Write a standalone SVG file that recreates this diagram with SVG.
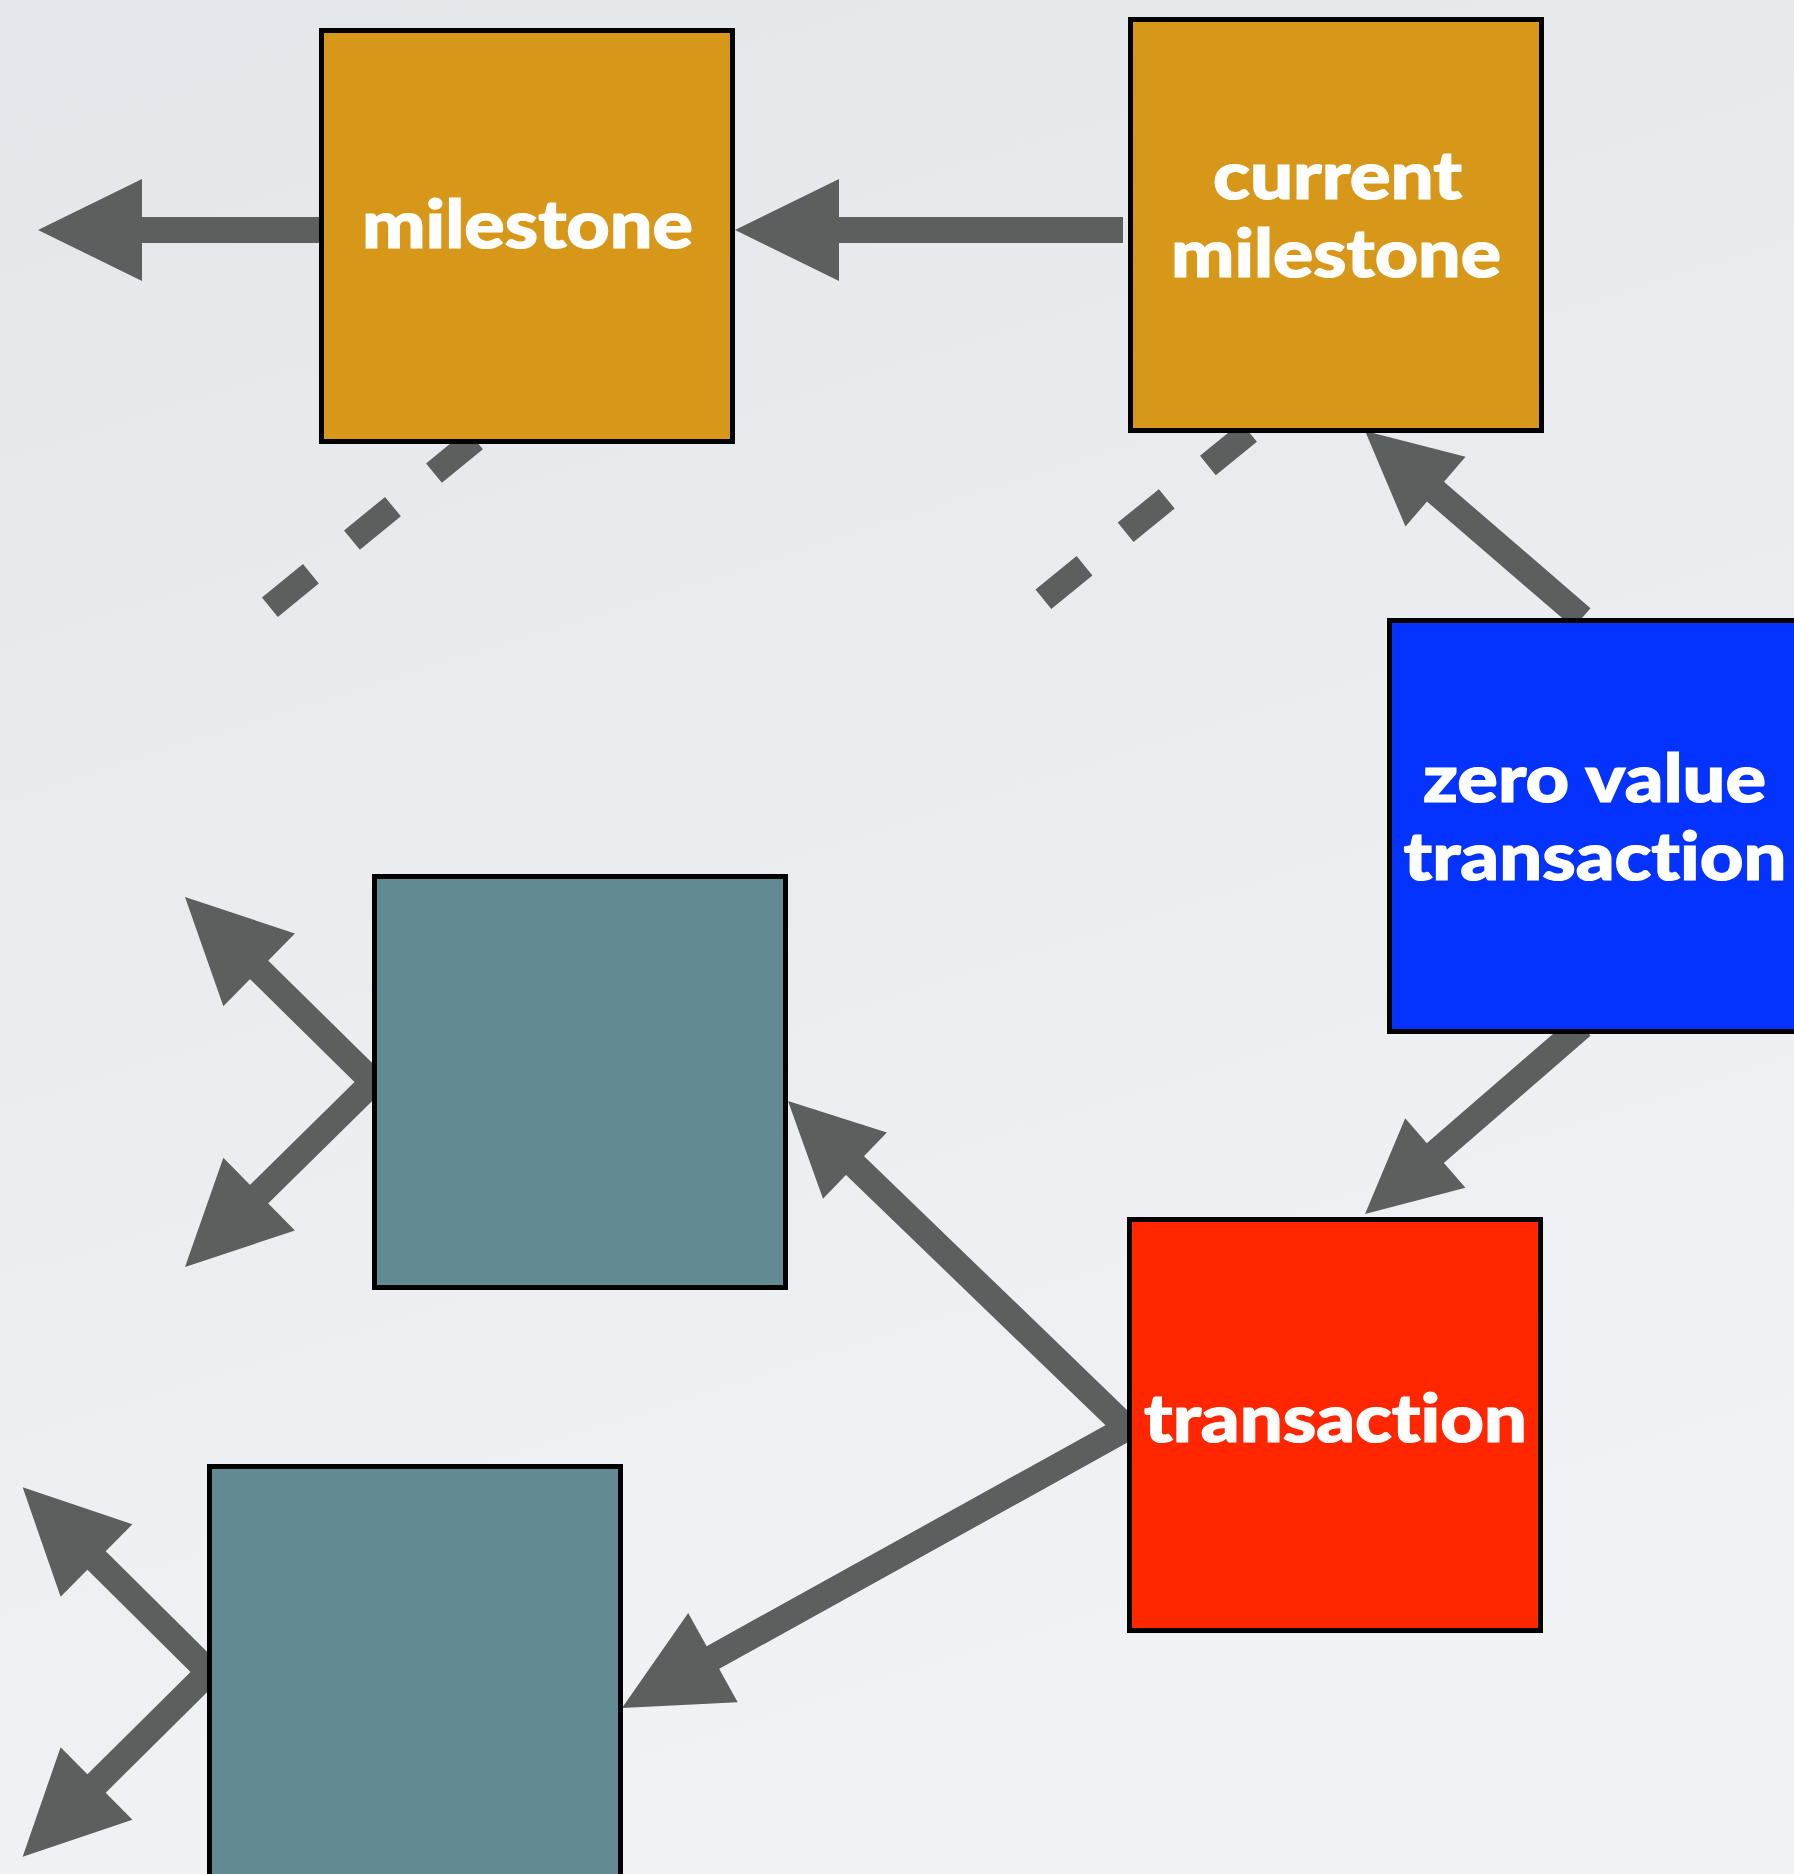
<svg xmlns="http://www.w3.org/2000/svg" width="1794" height="1874" viewBox="0 0 1794 1874">
<defs>
<linearGradient id="bg" x1="0" y1="0" x2="0.3" y2="1">
<stop offset="0" stop-color="#E3E6EA"/>
<stop offset="1" stop-color="#F1F2F5"/>
</linearGradient>
<marker id="headBig" markerUnits="userSpaceOnUse" markerWidth="110" markerHeight="110" viewBox="-2 -55 106 110" refX="0" refY="0" orient="auto">
<path d="M-2,-51 L102,0 L-2,51 Z" fill="#5B5F5D"/>
</marker>
<marker id="headSmall" markerUnits="userSpaceOnUse" markerWidth="100" markerHeight="100" viewBox="-2 -50 96 100" refX="0" refY="0" orient="auto">
<path d="M-2,-46 L91,0 L-2,46 Z" fill="#5B5F5D"/>
</marker>
</defs>
<style>
.box{stroke:#000;stroke-width:5}
.ms{fill:#D79719}
.zv{fill:#0433FF}
.tx{fill:#FF2600}
.tl{fill:#618A93}
.lbl{font-family:Lato,"Open Sans","Liberation Sans",sans-serif;font-weight:900;font-size:66px;fill:#fff;stroke:#fff;stroke-width:1.2;text-anchor:middle;font-variant-ligatures:none;font-feature-settings:"liga" 0,"dlig" 0}
.sh{stroke:#5B5F5D;stroke-width:26;fill:none}
.big{marker-end:url(#headBig)}
.small{marker-end:url(#headSmall)}
.dash{stroke:#5B5F5D;stroke-width:25;fill:none;stroke-dasharray:53 53}
</style>
<rect width="1794" height="1874" fill="url(#bg)"/>
<g id="connectors">
<line class="sh big" x1="320" y1="230" x2="140" y2="230"/>
<line class="sh big" x1="1123" y1="230" x2="837" y2="230"/>
<line class="sh small" x1="1582" y1="618" x2="1434" y2="490.4"/>
<line class="sh small" x1="1582" y1="1026" x2="1433.8" y2="1154.4"/>
<line class="sh small" x1="1127" y1="1428" x2="853.5" y2="1164.2"/>
<line class="sh big" x1="1127" y1="1428" x2="711.2" y2="1658.5"/>
<line class="sh big" x1="373" y1="1082" x2="257.7" y2="968.5"/>
<line class="sh big" x1="373" y1="1082" x2="257.7" y2="1195.5"/>
<line class="sh big" x1="209" y1="1672" x2="95.1" y2="1559.1"/>
<line class="sh big" x1="209" y1="1672" x2="95.1" y2="1784.9"/>
<line class="dash" x1="475" y1="439.5" x2="269" y2="608"/>
<line class="dash" x1="1249" y1="432" x2="1043" y2="599.5"/>
</g>
<g id="milestone">
<rect class="box ms" x="321.5" y="30.5" width="411" height="411"/>
<text class="lbl" x="527.5" y="248" textLength="331" lengthAdjust="spacingAndGlyphs">milestone</text>
</g>
<g id="current-milestone">
<rect class="box ms" x="1130.5" y="19.5" width="411" height="411"/>
<text class="lbl" x="1337.5" y="199" textLength="249" lengthAdjust="spacingAndGlyphs">current</text>
<text class="lbl" x="1336" y="276.5" textLength="330" lengthAdjust="spacingAndGlyphs">milestone</text>
</g>
<g id="zero-value-transaction">
<rect class="box zv" x="1389.5" y="620.5" width="411" height="411"/>
<text class="lbl" x="1594.5" y="802" textLength="343" lengthAdjust="spacingAndGlyphs">zero value</text>
<text class="lbl" x="1595" y="880" textLength="383" lengthAdjust="spacingAndGlyphs">transaction</text>
</g>
<g id="transaction">
<rect class="box tx" x="1129.5" y="1219.5" width="411" height="411"/>
<text class="lbl" x="1335.5" y="1442" textLength="383" lengthAdjust="spacingAndGlyphs">transaction</text>
</g>
<g id="tx-a">
<rect class="box tl" x="374.5" y="876.5" width="411" height="411"/>
</g>
<g id="tx-b">
<rect class="box tl" x="209.5" y="1466.5" width="411" height="411"/>
</g>
</svg>
